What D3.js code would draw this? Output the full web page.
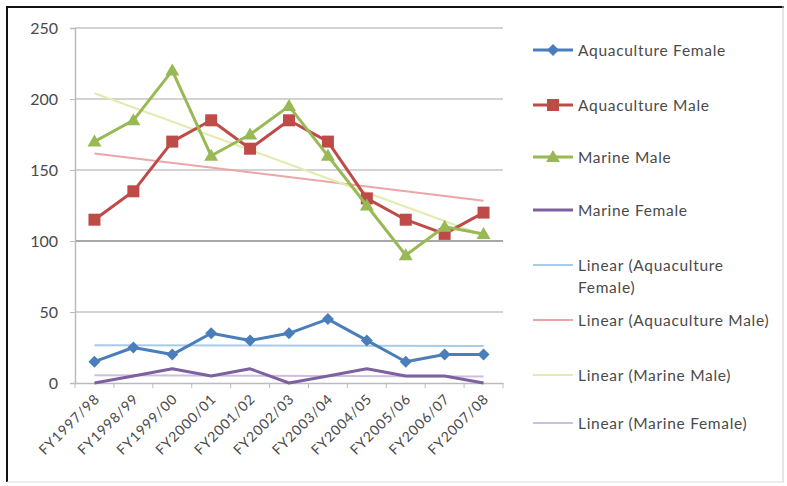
<!DOCTYPE html>
<html><head><meta charset="utf-8">
<script src="https://cdn.jsdelivr.net/npm/d3@7"></script>
<style>body{margin:0;background:#fff;}svg{display:block;}</style>
</head><body>
<script>
const categories = ["FY1997/98","FY1998/99","FY1999/00","FY2000/01","FY2001/02","FY2002/03","FY2003/04","FY2004/05","FY2005/06","FY2006/07","FY2007/08"];
const aquacultureFemale = [15,25,20,35,30,35,45,30,15,20,20];
const aquacultureMale = [115,135,170,185,165,185,170,130,115,105,120];
const marineMale = [170,185,220,160,175,195,160,125,90,110,105];
const marineFemale = [0,5,10,5,10,0,5,10,5,5,0];
const yTicks = [0,50,100,150,200,250];

const series = [
  {name:"Aquaculture Female", values:aquacultureFemale, color:"#4a7ebb", marker:"diamond", trend:"#a9cbe9", trendName:["Linear (Aquaculture","Female)"]},
  {name:"Aquaculture Male", values:aquacultureMale, color:"#be4b48", marker:"square", trend:"#eba6a6", trendName:["Linear (Aquaculture Male)"]},
  {name:"Marine Male", values:marineMale, color:"#98b954", marker:"triangle", trend:"#e3ebb0", trendName:["Linear (Marine Male)"]},
  {name:"Marine Female", values:marineFemale, color:"#7d60a0", marker:"none", trend:"#cdbfe0", trendName:["Linear (Marine Female)"]}
];

const W=787,H=486;
const svg=d3.select("body").append("svg").attr("width",W).attr("height",H);
const font="Lato, 'Open Sans', sans-serif";
const txtColor="#4a4a4a";

// frame
svg.append("rect").attr("x",0).attr("y",0).attr("width",W).attr("height",H).attr("fill","#fff");
svg.append("line").attr("x1",6).attr("x2",784).attr("y1",7).attr("y2",7).attr("stroke","#111").attr("stroke-width",2);
svg.append("line").attr("x1",7).attr("x2",7).attr("y1",6).attr("y2",482).attr("stroke","#111").attr("stroke-width",2);
svg.append("line").attr("x1",783).attr("x2",783).attr("y1",6).attr("y2",482).attr("stroke","#ccc").attr("stroke-width",1);
svg.append("line").attr("x1",7).attr("x2",784).attr("y1",482).attr("y2",482).attr("stroke","#ddd").attr("stroke-width",1);

const pLeft=75,pRight=503,pTop=28,pBottom=383;
const x=d3.scalePoint().domain(categories).range([pLeft,pRight]).padding(0.5);
const y=d3.scaleLinear().domain([0,250]).range([pBottom,pTop]);

// gridlines
svg.append("g").selectAll("line").data(yTicks.filter(d=>d>0)).join("line")
  .attr("x1",pLeft).attr("x2",pRight).attr("y1",d=>y(d)).attr("y2",d=>y(d))
  .attr("stroke",d=>d===100?"#8a8a8a":"#c4c4c4").attr("stroke-width",1.5);

// y axis
const yAxis=svg.append("g").attr("transform",`translate(${pLeft},0)`)
  .call(d3.axisLeft(y).tickValues(yTicks).tickSize(5).tickPadding(12));
yAxis.select(".domain").attr("stroke","#bbb").attr("stroke-width",1.5);
yAxis.selectAll(".tick line").attr("stroke","#bbb");
yAxis.selectAll("text").attr("font-family",font).attr("font-size",16).attr("fill",txtColor);

// x axis
const xAxis=svg.append("g").attr("transform",`translate(0,${pBottom})`)
  .call(d3.axisBottom(x).tickSize(0).tickFormat(""));
xAxis.select(".domain").attr("stroke","#bbb").attr("stroke-width",1.5);
const bandStep=x.step();
svg.append("g").selectAll("line").data(d3.range(categories.length+1)).join("line")
  .attr("x1",i=>pLeft+i*bandStep).attr("x2",i=>pLeft+i*bandStep)
  .attr("y1",pBottom).attr("y2",pBottom+5).attr("stroke","#bbb");
svg.append("g").selectAll("text").data(categories).join("text")
  .attr("transform",d=>`translate(${x(d)+6},${pBottom+17}) rotate(-45)`)
  .attr("text-anchor","end").attr("font-family",font).attr("font-size",14).attr("letter-spacing",0.8).attr("fill",txtColor)
  .text(d=>d);

// trendlines
function fit(vals){
  const n=vals.length, xs=d3.range(n);
  const mx=d3.mean(xs), my=d3.mean(vals);
  const b=d3.sum(xs,(xi,i)=>(xi-mx)*(vals[i]-my))/d3.sum(xs,xi=>(xi-mx)**2);
  return [my-b*mx, my+b*(n-1-mx)];
}
const trendG=svg.append("g");
series.forEach(s=>{
  const [a,b]=fit(s.values);
  trendG.append("line").attr("x1",x(categories[0])).attr("x2",x(categories[categories.length-1]))
    .attr("y1",y(a)).attr("y2",y(b)).attr("stroke",s.trend).attr("stroke-width",2);
});

// series lines
const line=d3.line().x((d,i)=>x(categories[i])).y(d=>y(d));
function drawMarker(g,type,cx,cy,color){
  if(type==="square") g.append("rect").attr("x",cx-6).attr("y",cy-6).attr("width",12).attr("height",12).attr("fill",color);
  else if(type==="diamond") g.append("path").attr("d",`M${cx},${cy-6}L${cx+6},${cy}L${cx},${cy+6}L${cx-6},${cy}Z`).attr("fill",color);
  else if(type==="triangle") g.append("path").attr("d",`M${cx},${cy-7}L${cx+7},${cy+5}L${cx-7},${cy+5}Z`).attr("fill",color);
}
const order=[3,0,1,2];
order.forEach(k=>{
  const s=series[k];
  const g=svg.append("g");
  g.append("path").attr("d",line(s.values)).attr("fill","none").attr("stroke",s.color).attr("stroke-width",3).attr("stroke-linejoin","round");
  s.values.forEach((v,i)=>drawMarker(g,s.marker,x(categories[i]),y(v),s.color));
});

// legend
const leg=svg.append("g");
const legY=[50,105,157,210];
const legFont=15.5;
series.forEach((s,k)=>{
  const yy=legY[k];
  leg.append("line").attr("x1",533).attr("x2",573).attr("y1",yy).attr("y2",yy).attr("stroke",s.color).attr("stroke-width",3);
  drawMarker(leg,s.marker,553,yy,s.color);
  leg.append("text").attr("x",578).attr("y",yy+5.5).attr("font-family",font).attr("font-size",legFont).attr("letter-spacing",0.7).attr("fill",txtColor).text(s.name);
});
const trendY=[265,320,375,423];
series.forEach((s,k)=>{
  const yy=trendY[k];
  leg.append("line").attr("x1",533).attr("x2",573).attr("y1",yy).attr("y2",yy).attr("stroke",s.trend).attr("stroke-width",2);
  s.trendName.forEach((t,j)=>{
    leg.append("text").attr("x",578).attr("y",yy+5.5+j*22).attr("font-family",font).attr("font-size",legFont).attr("letter-spacing",0.7).attr("fill",txtColor).text(t);
  });
});
</script>
</body></html>
